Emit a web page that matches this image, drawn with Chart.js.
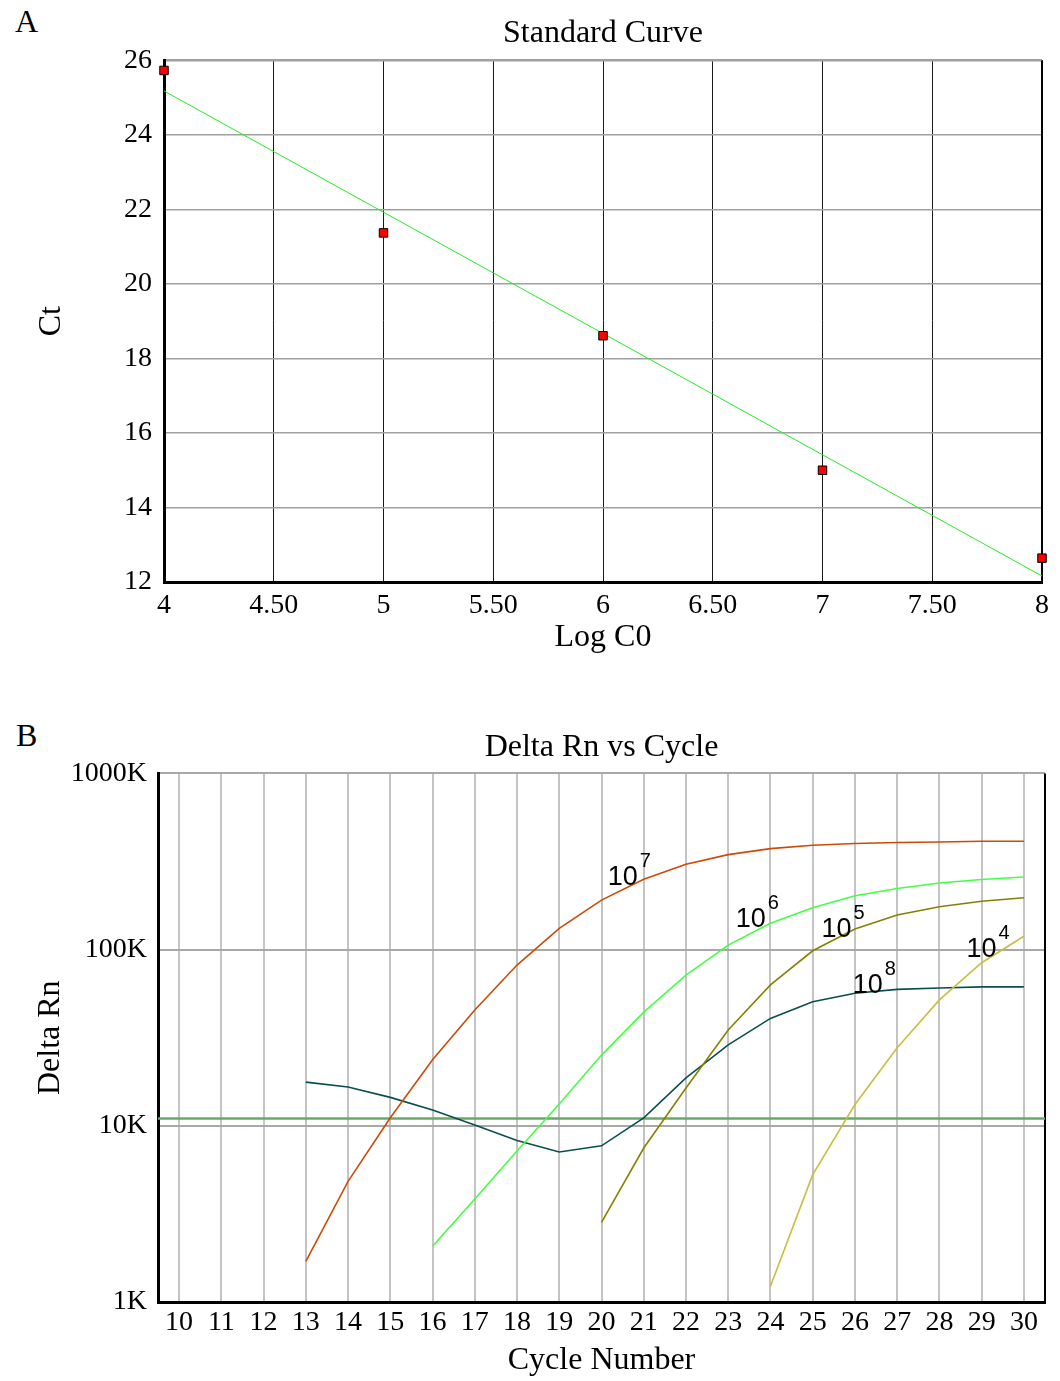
<!DOCTYPE html>
<html>
<head>
<meta charset="utf-8">
<script src="https://cdn.jsdelivr.net/npm/chart.js@4.4.1/dist/chart.umd.min.js"></script>
<style>
  html, body { margin: 0; padding: 0; background: #fff; }
  #page { position: relative; width: 1060px; height: 1381px; overflow: hidden; }
  .panel { position: absolute; left: 0; }
  .tag { position: absolute; font: 32px/32px 'Liberation Serif', 'Times New Roman', serif; color: #000; }
</style>
</head>
<body>
<div id="page">
  <div class="tag" style="left:15px; top:5px;">A</div>
  <canvas id="curveChart" class="panel" style="top:0" width="1060" height="662"></canvas>
  <div class="tag" style="left:16px; top:719px;">B</div>
  <canvas id="ampChart" class="panel" style="top:690px" width="1060" height="691"></canvas>
</div>
<script>
// --- panel A: standard curve ---
const logC0 = [4, 5, 6, 7, 8];
const ctValues = [25.73, 21.37, 18.61, 15.0, 12.64];
const fitX = [4, 8];
const fitY = [25.18, 12.16];

// --- panel B: amplification plot ---
const cycles = [13, 14, 15, 16, 17, 18, 19, 20, 21, 22, 23, 24, 25, 26, 27, 28, 29, 30];
const rn1e7 = [1700, 4840, 11100, 23700, 45400, 81700, 132000, 191000, 251000, 305000, 346000, 374000, 391000, 400000, 405000, 408000, 412000, 412000];
const rn1e6 = [null, null, null, 2070, 3840, 7190, 13300, 25200, 44200, 71700, 106000, 141000, 173000, 202000, 222000, 239000, 250000, 258000];
const rn1e5 = [null, null, null, null, null, null, null, 2830, 7480, 16400, 35000, 63000, 98500, 131000, 157000, 175000, 188000, 197000];
const rn1e4 = [null, null, null, null, null, null, null, null, null, null, null, 1230, 5280, 13200, 27700, 51800, 84200, 119000];
const rn1e8 = [17700, 16600, 14500, 12300, 10100, 8260, 7100, 7700, 11100, 18700, 28800, 40700, 50600, 56500, 59500, 60500, 61400, 61400];
const threshold = 11000;
const cycleTicks = [10, 11, 12, 13, 14, 15, 16, 17, 18, 19, 20, 21, 22, 23, 24, 25, 26, 27, 28, 29, 30];
const rnTicks = [1000, 10000, 100000, 1000000];

// curve labels (10^n), anchored at cycle / Delta Rn
const tagExps = ['7', '6', '5', '4', '8'];
const tagCycles = [20.15, 23.18, 25.21, 28.64, 25.95];
const tagValues = [232000, 134000, 117700, 90700, 56700];

Chart.defaults.font.family = "'Liberation Serif', 'Times New Roman', serif";
Chart.defaults.color = '#000';

const rightEdge = {
    id: 'rightEdge',
    beforeDatasetsDraw(chart) {
        const { ctx, chartArea: a } = chart;
        ctx.save();
        ctx.strokeStyle = '#000';
        ctx.lineWidth = 2;
        ctx.beginPath();
        ctx.moveTo(a.right, a.top);
        ctx.lineTo(a.right, a.bottom);
        ctx.stroke();
        ctx.restore();
    }
};

const curveTags = {
    id: 'curveTags',
    afterDatasetsDraw(chart) {
        const { ctx, scales: { x, y } } = chart;
        ctx.save();
        ctx.fillStyle = '#000';
        ctx.textAlign = 'left';
        ctx.textBaseline = 'alphabetic';
        tagExps.forEach((exp, i) => {
            const px = x.getPixelForValue(tagCycles[i]);
            const py = y.getPixelForValue(tagValues[i]);
            ctx.font = "27px 'Liberation Sans', Arial, sans-serif";
            ctx.fillText('10', px, py);
            const w = ctx.measureText('10').width;
            ctx.font = "20px 'Liberation Sans', Arial, sans-serif";
            ctx.fillText(exp, px + w + 2, py - 18);
        });
        ctx.restore();
    }
};

const pts = (xs, ys) => xs.map((v, i) => ({ x: v, y: ys[i] }));

new Chart(document.getElementById('curveChart'), {
    type: 'scatter',
    data: {
        datasets: [
            {
                data: pts(logC0, ctValues),
                pointStyle: 'rect',
                pointRadius: 6,
                backgroundColor: '#ff0000',
                borderColor: '#000',
                borderWidth: 1,
                clip: false
            },
            {
                data: pts(fitX, fitY),
                showLine: true,
                pointRadius: 0,
                borderColor: '#22ee22',
                borderWidth: 1
            }
        ]
    },
    options: {
        responsive: false,
        animation: false,
        layout: { padding: { left: 0, right: 18, top: 0, bottom: 0 } },
        plugins: {
            legend: { display: false },
            tooltip: { enabled: false },
            title: {
                display: true, text: 'Standard Curve', fullSize: false, color: '#000',
                font: { size: 32, weight: 'normal' }, padding: { top: 14, bottom: 8 }
            }
        },
        scales: {
            x: {
                type: 'linear', min: 4, max: 8,
                ticks: {
                    stepSize: 0.5, padding: 7, maxRotation: 0, autoSkip: false,
                    font: { size: 28 }, color: '#000',
                    callback: v => Number.isInteger(v) ? String(v) : v.toFixed(2)
                },
                grid: { color: '#1a1a1a', lineWidth: 1, drawTicks: false },
                border: { color: '#000', width: 3 },
                title: { display: true, text: 'Log C0', color: '#000', font: { size: 32 }, padding: { top: 0, bottom: 5 } },
                afterFit: s => { s.height = 80; }
            },
            y: {
                type: 'linear', min: 12, max: 26,
                ticks: { stepSize: 2, padding: 12, font: { size: 28 }, color: '#000' },
                grid: {
                    color: '#a0a0a0', drawTicks: false,
                    lineWidth: c => (c.tick && c.tick.value === 26) ? 2.5 : 1.5
                },
                border: { color: '#000', width: 3 },
                title: { display: true, text: 'Ct', color: '#000', font: { size: 32 }, padding: { top: 32, bottom: 0 } },
                afterFit: s => { s.width = 164; }
            }
        }
    },
    plugins: [rightEdge]
});

const curve = (vals, color) => ({
    data: pts(cycles, vals),
    borderColor: color,
    borderWidth: 1.6,
    pointRadius: 0,
    tension: 0
});

new Chart(document.getElementById('ampChart'), {
    type: 'line',
    data: {
        datasets: [
            curve(rn1e7, '#cc4a08'),
            curve(rn1e6, '#44ff44'),
            curve(rn1e5, '#888000'),
            curve(rn1e4, '#c8be40'),
            curve(rn1e8, '#0a4f4f'),
            {
                data: [{ x: 9.5, y: threshold }, { x: 30.5, y: threshold }],
                borderColor: '#6aa86a',
                borderWidth: 2.5,
                pointRadius: 0
            }
        ]
    },
    options: {
        responsive: false,
        animation: false,
        layout: { padding: { left: 0, right: 15, top: 0, bottom: 0 } },
        plugins: {
            legend: { display: false },
            tooltip: { enabled: false },
            title: {
                display: true, text: 'Delta Rn vs Cycle', fullSize: false, color: '#000',
                font: { size: 32, weight: 'normal' }, padding: { top: 38, bottom: 7 }
            }
        },
        scales: {
            x: {
                type: 'linear', min: 9.5, max: 30.5,
                afterBuildTicks: s => { s.ticks = cycleTicks.map(v => ({ value: v })); },
                ticks: { padding: 4, maxRotation: 0, autoSkip: false, font: { size: 28 }, color: '#000' },
                grid: { color: '#c4c4c4', lineWidth: 2, drawTicks: false },
                border: { color: '#000', width: 3 },
                title: { display: true, text: 'Cycle Number', color: '#000', font: { size: 32 }, padding: { top: 0, bottom: 1 } },
                afterFit: s => { s.height = 79; }
            },
            y: {
                type: 'logarithmic', min: 1000, max: 1000000,
                afterBuildTicks: s => { s.ticks = rnTicks.map(v => ({ value: v })); },
                ticks: { padding: 11, font: { size: 28 }, color: '#000', callback: v => (v / 1000) + 'K' },
                grid: { color: '#a8a8a8', lineWidth: 2, drawTicks: false },
                border: { color: '#000', width: 3 },
                title: { display: true, text: 'Delta Rn', color: '#000', font: { size: 32 }, padding: { top: 31, bottom: 0 } },
                afterFit: s => { s.width = 158; }
            }
        }
    },
    plugins: [rightEdge, curveTags]
});
</script>
</body>
</html>
